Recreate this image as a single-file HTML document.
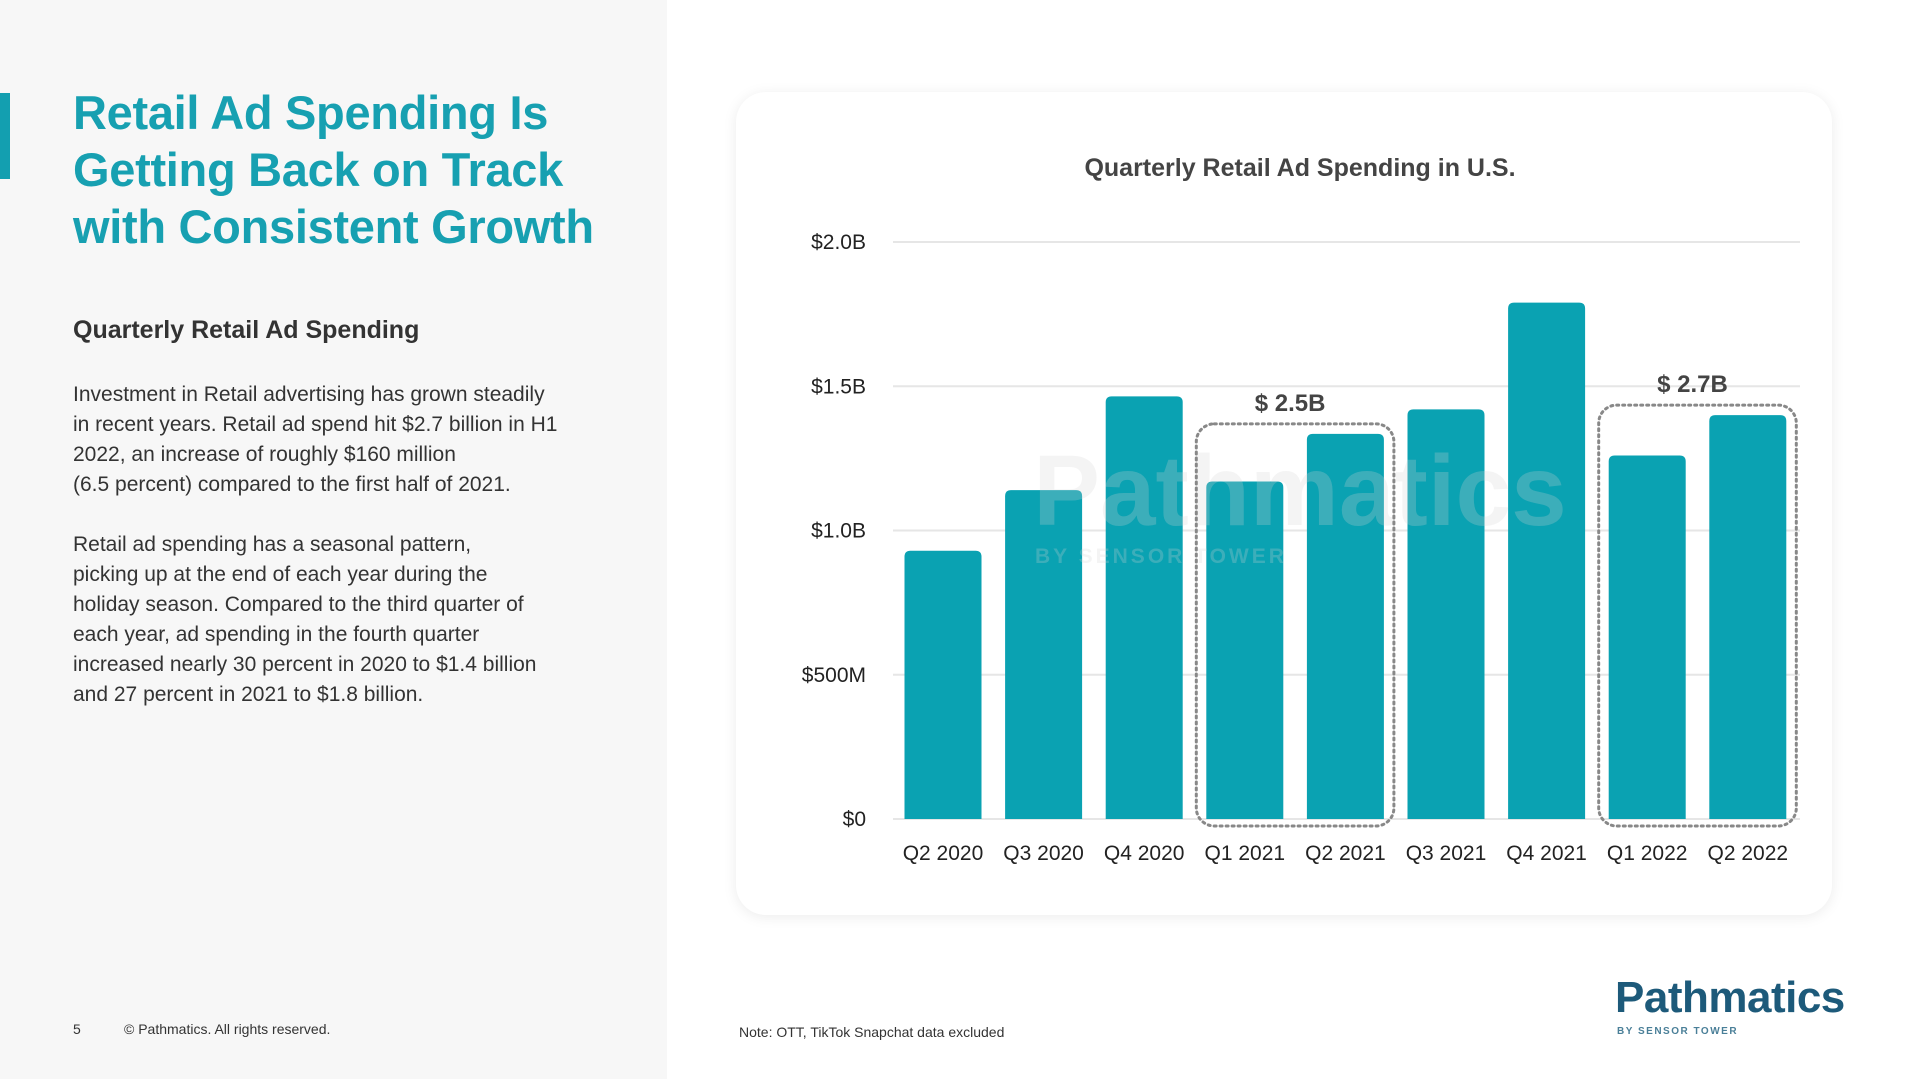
<!DOCTYPE html>
<html><head><meta charset="utf-8"><style>
*{margin:0;padding:0;box-sizing:border-box}
body{width:1918px;height:1079px;position:relative;overflow:hidden;background:#fff;font-family:"Liberation Sans",sans-serif}
#left{position:absolute;left:0;top:0;width:667px;height:1079px;background:#f7f7f7}
.abs{position:absolute}
</style></head><body>
<div id="left"></div>
<div class="abs" style="left:0;top:93px;width:10px;height:86px;background:#139fb0"></div>
<div class="abs" style="left:73px;top:84px;font-size:47px;font-weight:bold;line-height:57px;color:#17a0b1;letter-spacing:-0.3px">Retail Ad Spending Is<br>Getting Back on Track<br>with Consistent Growth</div>
<div class="abs" style="left:73px;top:316px;font-size:25px;font-weight:bold;color:#333">Quarterly Retail Ad Spending</div>
<div class="abs" style="left:73px;top:380px;width:600px;font-size:21px;line-height:30px;color:#333;white-space:nowrap">Investment in Retail advertising has grown steadily<br>in recent years. Retail ad spend hit $2.7 billion in H1<br>2022, an increase of roughly $160 million<br>(6.5 percent) compared to the first half of 2021.<br><br>Retail ad spending has a seasonal pattern,<br>picking up at the end of each year during the<br>holiday season. Compared to the third quarter of<br>each year, ad spending in the fourth quarter<br>increased nearly 30 percent in 2020 to $1.4 billion<br>and 27 percent in 2021 to $1.8 billion.</div>
<div class="abs" style="left:73px;top:1021px;font-size:14px;color:#333">5</div>
<div class="abs" style="left:124px;top:1021px;font-size:14px;color:#333">© Pathmatics. All rights reserved.</div>
<div class="abs" style="left:736px;top:92px;width:1096px;height:823px;background:#fff;border-radius:30px;box-shadow:0 2px 14px rgba(0,0,0,0.08)"></div>
<svg class="abs" style="left:0;top:0" width="1918" height="1079">
<g id="g"></g>
</svg>
<div class="abs" style="left:739px;top:1024px;font-size:14px;color:#333">Note: OTT, TikTok Snapchat data excluded</div>
<div class="abs" style="left:1615px;top:973px;font-size:44px;font-weight:bold;color:#1d5a7a;letter-spacing:-0.5px">Pathmatics</div>
<div class="abs" style="left:1617px;top:1026px;font-size:10px;font-weight:bold;color:#4a7f98;letter-spacing:1.5px">BY SENSOR TOWER</div>
<script>
const categories=["Q2 2020","Q3 2020","Q4 2020","Q1 2021","Q2 2021","Q3 2021","Q4 2021","Q1 2022","Q2 2022"];
const values=[0.93,1.14,1.465,1.17,1.335,1.42,1.79,1.26,1.40];
const tickValues=[0,0.5,1.0,1.5,2.0];
const tickLabels=["$0","$500M","$1.0B","$1.5B","$2.0B"];
const groupRanges=[[3,4],[7,8]];
const groupLabels=["$ 2.5B","$ 2.7B"];
const NS="http://www.w3.org/2000/svg";
const g=document.getElementById('g');
const y0=819,yTop=242,ymax=2.0,cx0=943,step=100.6,bw=77;
const y=v=>y0-(v/ymax)*(y0-yTop);
const x=i=>cx0+i*step;
function mk(t,a){const e=document.createElementNS(NS,t);for(const k in a)e.setAttribute(k,a[k]);g.appendChild(e);return e;}
let t=mk('text',{x:1300,y:176,'text-anchor':'middle','font-size':25,'font-weight':'bold',fill:'#444'});t.textContent="Quarterly Retail Ad Spending in U.S.";


tickValues.forEach((v,i)=>{
 const l=mk('line',{x1:893,x2:1800,y1:y(v),y2:y(v),stroke:'#e6e6e6','stroke-width':2});
 
 
 const tx=mk('text',{x:866,y:y(v)+7,'text-anchor':'end','font-size':21,fill:'#222'});tx.textContent=tickLabels[i];
 
 
});
values.forEach((v,i)=>{
 const r=6,L=x(i)-bw/2,T=y(v);
 const p=mk('path',{d:`M${L},${y0}V${T+r}Q${L},${T} ${L+r},${T}H${L+bw-r}Q${L+bw},${T} ${L+bw},${T+r}V${y0}Z`,fill:'#0aa2b2'});
 
 
 const tx=mk('text',{x:x(i),y:860,'text-anchor':'middle','font-size':21,fill:'#222'});tx.textContent=categories[i];
 
 
});
let w=mk('text',{x:1300,y:525,'text-anchor':'middle','font-size':100,'font-weight':'bold',fill:'rgba(210,210,210,0.25)'});w.textContent="Pathmatics";


let w2=mk('text',{x:1035,y:563,'font-size':21,'font-weight':'bold','letter-spacing':3,fill:'rgba(210,210,210,0.25)'});w2.textContent="BY SENSOR TOWER";


groupRanges.forEach((rg,j)=>{
 const L=x(rg[0])-bw/2-10,R=x(rg[1])+bw/2+10;
 const T=y(Math.max(values[rg[0]],values[rg[1]]))-10;
 const b=mk('rect',{x:L,y:T,width:R-L,height:826-T,rx:18,fill:'none',stroke:'#888','stroke-width':3,'stroke-dasharray':'2 4','stroke-linecap':'round'});
 
 
 const tx=mk('text',{x:(L+R)/2-5,y:T-13,'text-anchor':'middle','font-size':24,'font-weight':'bold',fill:'#444'});tx.textContent=groupLabels[j];
 
 
});
</script>
</body></html>
